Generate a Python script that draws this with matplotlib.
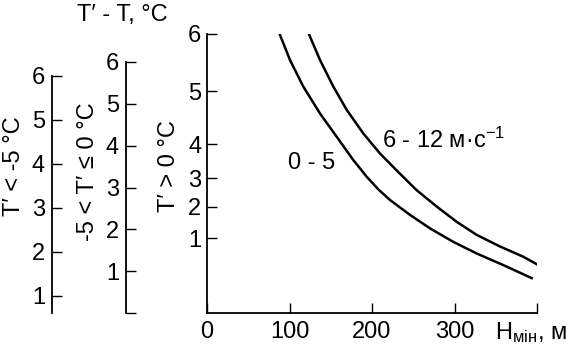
import matplotlib
matplotlib.use("Agg")
import matplotlib.pyplot as plt

plt.rcParams['font.family'] = ['Liberation Sans', 'DejaVu Sans']
plt.rcParams['mathtext.fontset'] = 'custom'
plt.rcParams['mathtext.rm'] = 'Liberation Sans'
plt.rcParams['mathtext.it'] = 'Liberation Sans'

# curve "0 - 5" (H in m, height on main axis)
h_calm = [88.5, 100.6, 116.7, 137.0, 157.2, 177.3, 193.6, 207.6, 221.8, 246.1,
          270.3, 298.5, 326.9, 359.2, 393.6]
y_calm = [5.98, 5.44, 4.87, 4.29, 3.79, 3.29, 2.93, 2.66, 2.43, 2.11,
          1.82, 1.53, 1.28, 1.03, 0.75]
# curve "6 - 12 m/s"
h_wind = [124.0, 137.0, 153.1, 169.3, 189.5, 209.7, 231.9, 254.2, 278.4, 302.7,
          326.9, 355.2, 383.4, 399.6]
y_wind = [5.98, 5.44, 4.87, 4.37, 3.86, 3.43, 3.03, 2.64, 2.29, 1.96,
          1.68, 1.43, 1.21, 1.05]

# main axis (T' > 0) tick positions and labels
main_ticks = [1.61, 2.28, 2.90, 3.63, 4.77, 6.0]
main_labels = ['1', '2', '3', '4', '5', '6']
x_ticks = [0, 100, 200, 300, 400]
x_labels = ['0', '100', '200', '300', '']

fs = 17
fig = plt.figure(figsize=(5.66, 3.47), dpi=100)

W, H = 566.0, 347.0
def box(x, top, bottom, right=None):
    w = ((right if right else x + 1) - x) / W
    return [x / W, 1 - bottom / H, w, (bottom - top) / H]

# main axes
ax = fig.add_axes(box(207, 34, 313, 537))
for hx, hy in [(h_calm, y_calm), (h_wind, y_wind)]:
    ax.plot(hx, hy, color='black', lw=1.8, solid_joinstyle='round')
ax.set_xlim(0, 400)
ax.set_ylim(0, 6)
ax.set_xticks(x_ticks)
ax.set_xticklabels(x_labels)
ax.set_yticks(main_ticks)
ax.set_yticklabels(main_labels)
for s in ['top', 'right']:
    ax.spines[s].set_visible(False)
for s in ['left', 'bottom']:
    ax.spines[s].set_linewidth(1.3)
ax.tick_params(axis='both', direction='in', length=7, width=1.0, labelsize=fs)
ax.tick_params(axis='y', pad=4)
ax.tick_params(axis='x', pad=6)
ax.text(127, 3.23, '0 - 5', fontsize=fs, ha='center', va='center')
ax.text(287, 3.72, '6 - 12 м·с$^{-1}$', fontsize=fs, ha='center', va='center')

# left axis T' < -5
ax1 = fig.add_axes(box(52, 76, 313))
ax1.set_ylim(6 - 237 / 44.0, 6)
ax1.set_yticks([1, 2, 3, 4, 5, 6])
# middle axis -5 < T' <= 0
ax2 = fig.add_axes(box(126, 62, 313))
ax2.set_ylim(0, 6)
ax2.set_yticks([0, 1, 2, 3, 4, 5, 6])
ax2.set_yticklabels(['', '1', '2', '3', '4', '5', '6'])
for a in [ax1, ax2]:
    a.patch.set_visible(False)
    for s in ['top', 'right', 'bottom']:
        a.spines[s].set_visible(False)
    a.spines['left'].set_linewidth(1.3)
    a.set_xticks([])
    a.tick_params(axis='y', direction='in', length=7, width=1.0, labelsize=fs, pad=5)

fig.text(122 / W, 1 - 15 / H, "T′ - T, °C", fontsize=fs, ha='center', va='center')
fig.text(14 / W, 1 - 166 / H, "T′ < -5 °C", fontsize=fs, rotation=90, ha='center', va='center')
fig.text(88 / W, 1 - 172 / H, "-5 < T′ ≤ 0 °C", fontsize=fs, rotation=90, ha='center', va='center')
fig.text(169 / W, 1 - 166 / H, "T′ > 0 °C", fontsize=fs, rotation=90, ha='center', va='center')
fig.text(495 / W, 1 - 333 / H, "H$_{\\mathrm{мін}}$, м", fontsize=fs, ha='left', va='center')

fig.savefig("out.png", dpi=100)
